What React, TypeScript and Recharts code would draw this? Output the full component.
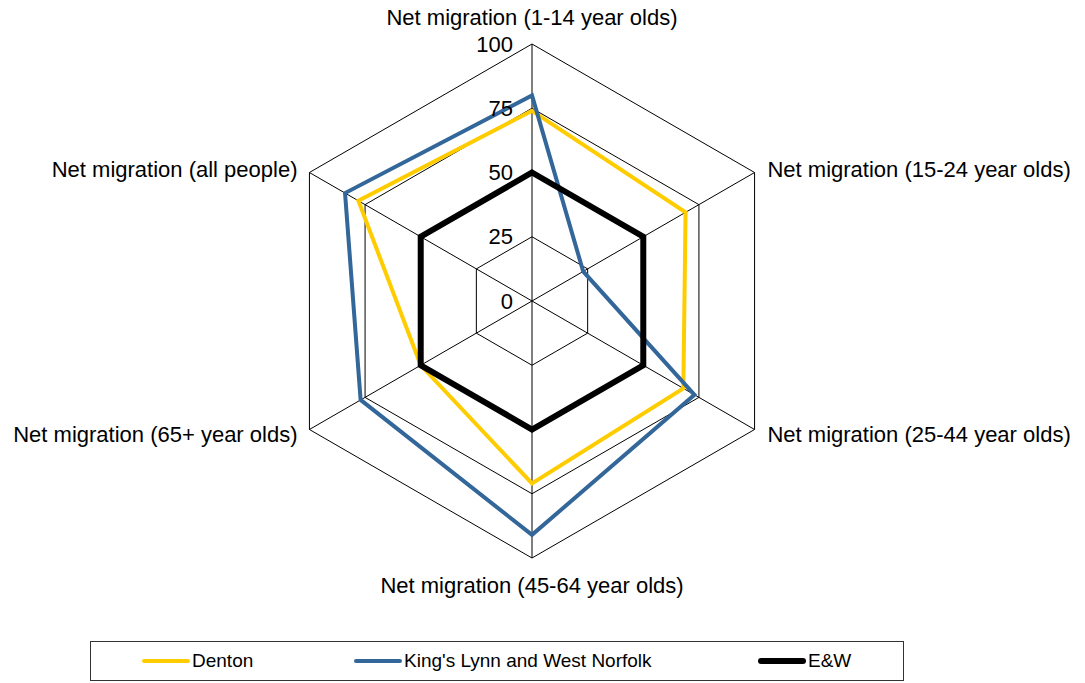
import React from 'react';
import { RadarChart, Radar, PolarGrid, PolarAngleAxis, PolarRadiusAxis, Legend } from 'recharts';

// categories run clockwise from the top
const categories = [
  'Net migration (1-14 year olds)',
  'Net migration (15-24 year olds)',
  'Net migration (25-44 year olds)',
  'Net migration (45-64 year olds)',
  'Net migration (65+ year olds)',
  'Net migration (all people)',
];
const denton = [74, 69, 68, 71, 50, 78];
const kingsLynn = [80, 23, 73, 91, 77, 84];
const englandWales = [50, 50, 50, 50, 50, 50];
const radiusTicks = [0, 25, 50, 75, 100];

const data = categories.map((category, i) => ({
  category,
  denton: denton[i],
  kings: kingsLynn[i],
  ew: englandWales[i],
}));

const CX = 532;
const CY = 301;
const R = 257;
const FONT = '"Liberation Sans", Arial, sans-serif';

const seriesOrder = ['denton', 'kings', 'ew'];
const lineWidths: Record<string, number> = { denton: 4, kings: 4, ew: 6 };
const legendLeft = [50, 262, 666];

function AngleTick(props: any) {
  const { payload } = props;
  const rad = (payload.coordinate * Math.PI) / 180;
  const x = CX + (R + 8) * Math.cos(rad);
  const y = CY - (R + 8) * Math.sin(rad);
  let anchor: 'start' | 'middle' | 'end' = 'middle';
  let dx = 0;
  let dy = 8.5;
  if (Math.abs(x - CX) < 1) {
    dy = y < CY ? -11 : 27;
  } else if (x > CX) {
    anchor = 'start';
    dx = 6;
  } else {
    anchor = 'end';
    dx = -5;
  }
  return (
    <text x={x + dx} y={y + dy} textAnchor={anchor} fontSize={22} fontFamily={FONT} fill="#000">
      {payload.value}
    </text>
  );
}

function RadiusTick(props: any) {
  const { x, y, payload } = props;
  return (
    <text x={x - 19} y={y} textAnchor="end" dominantBaseline="central" fontSize={22} fontFamily={FONT} fill="#000">
      {payload.value}
    </text>
  );
}

function LegendBox(props: any) {
  const items = [...(props.payload || [])].sort(
    (a: any, b: any) => seriesOrder.indexOf(a.dataKey) - seriesOrder.indexOf(b.dataKey)
  );
  return (
    <div
      style={{
        position: 'relative',
        width: 812,
        height: 38,
        border: '1px solid #333',
        fontFamily: FONT,
        fontSize: 19,
        background: '#fff',
      }}
    >
      {items.map((item: any, i: number) => {
        const w = lineWidths[item.dataKey] || 4;
        return (
          <div
            key={item.dataKey}
            style={{
              position: 'absolute',
              left: legendLeft[i],
              top: 0,
              height: 38,
              display: 'flex',
              alignItems: 'center',
              whiteSpace: 'nowrap',
            }}
          >
            <svg width={50} height={10} style={{ display: 'block', flex: 'none' }}>
              <line x1={w / 2 + 1} y1={5} x2={49 - w / 2} y2={5} stroke={item.color} strokeWidth={w} strokeLinecap="round" />
            </svg>
            <span style={{ marginLeft: 1, color: '#000', lineHeight: '38px' }}>{item.value}</span>
          </div>
        );
      })}
    </div>
  );
}

export default function App() {
  return (
    <div style={{ position: 'absolute', left: 0, top: 0, width: 1085, height: 683, background: '#fff' }}>
      <RadarChart
        width={1085}
        height={683}
        data={data}
        cx={CX}
        cy={CY}
        outerRadius={R}
        margin={{ top: 0, right: 0, bottom: 0, left: 0 }}
      >
        <PolarGrid gridType="polygon" stroke="#000" strokeWidth={1} />
        <PolarAngleAxis dataKey="category" tick={<AngleTick />} tickLine={false} axisLine={false} />
        <PolarRadiusAxis
          angle={90}
          domain={[0, 100]}
          ticks={radiusTicks as any}
          tick={<RadiusTick />}
          tickLine={false}
          axisLine={false}
        />
        <Radar name="Denton" dataKey="denton" stroke="#FFCC00" strokeWidth={4} fill="none" fillOpacity={0} dot={false} isAnimationActive={false} />
        <Radar name="King's Lynn and West Norfolk" dataKey="kings" stroke="#336699" strokeWidth={4} fill="none" fillOpacity={0} dot={false} isAnimationActive={false} />
        <Radar name="E&W" dataKey="ew" stroke="#000" strokeWidth={6} fill="none" fillOpacity={0} dot={false} isAnimationActive={false} />
        <Legend
          content={<LegendBox />}
          wrapperStyle={{ position: 'absolute', left: 90, top: 641, width: 814, height: 40, bottom: 'auto' }}
        />
      </RadarChart>
    </div>
  );
}
